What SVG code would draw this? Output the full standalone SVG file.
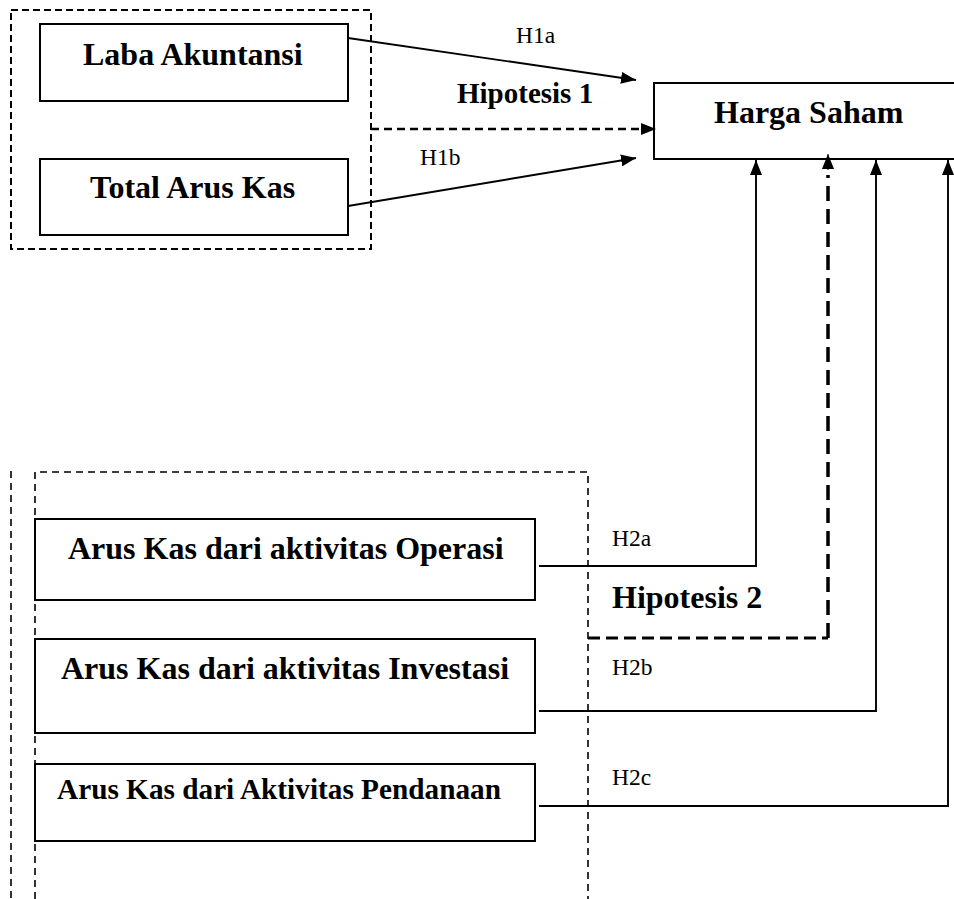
<svg xmlns="http://www.w3.org/2000/svg" width="954" height="899" viewBox="0 0 954 899">
<defs>
<style>
.box{fill:#fff;stroke:#000;stroke-width:2}
.lbl{font-family:"Liberation Serif","Times New Roman",serif;font-weight:bold;fill:#000}
.sm{font-family:"Liberation Serif","Times New Roman",serif;font-size:23.5px;fill:#000}
.ln{fill:none;stroke:#000;stroke-width:1.9}
.dash1{fill:none;stroke:#000;stroke-width:2;stroke-dasharray:7 4}
.dash2{fill:none;stroke:#000;stroke-width:1.6;stroke-dasharray:7 5}
</style>
<marker id="ah" viewBox="0 0 15 12" refX="15" refY="6" markerWidth="15" markerHeight="12" markerUnits="userSpaceOnUse" orient="auto">
<path d="M0,0 L15,6 L0,12 Z" fill="#000"/>
</marker>
</defs>
<rect width="954" height="899" fill="#fff"/>

<g id="group-hipotesis1">
<rect x="11" y="10" width="360" height="239" class="dash1"/>
</g>
<g id="group-hipotesis2">
<path d="M11,471 V899" class="dash2"/>
<path d="M35,899 V472 H588 V899" class="dash2"/>
</g>

<g id="node-laba">
<rect x="40" y="24" width="308" height="77" class="box"/>
<text x="83" y="65" class="lbl" font-size="32">Laba Akuntansi</text>
</g>
<g id="node-total">
<rect x="40" y="159" width="308" height="76" class="box"/>
<text x="90" y="198" class="lbl" font-size="32">Total Arus Kas</text>
</g>
<g id="node-harga">
<rect x="654" y="83" width="320" height="76" class="box"/>
<text x="714" y="123" class="lbl" font-size="32">Harga Saham</text>
</g>
<g id="node-operasi">
<rect x="35" y="519" width="500" height="81" class="box"/>
<text x="68" y="559" class="lbl" font-size="32">Arus Kas dari aktivitas Operasi</text>
</g>
<g id="node-investasi">
<rect x="35" y="639" width="500" height="94" class="box"/>
<text x="61" y="679" class="lbl" font-size="32">Arus Kas dari aktivitas Investasi</text>
</g>
<g id="node-pendanaan">
<rect x="35" y="764" width="500" height="77" class="box"/>
<text x="57" y="799" class="lbl" font-size="29" textLength="444" lengthAdjust="spacingAndGlyphs">Arus Kas dari Aktivitas Pendanaan</text>
</g>

<g id="connectors">
<line x1="348" y1="38" x2="636" y2="80" class="ln" marker-end="url(#ah)"/>
<line x1="348" y1="206" x2="636" y2="158" class="ln" marker-end="url(#ah)"/>
<line x1="371" y1="129" x2="656" y2="129" fill="none" stroke="#000" stroke-width="2.3" stroke-dasharray="8 5" marker-end="url(#ah)"/>
<path d="M539,566 H756 V160" class="ln" marker-end="url(#ah)"/>
<path d="M539,711 H876 V160" class="ln" marker-end="url(#ah)"/>
<path d="M539,806 H948 V160" class="ln" marker-end="url(#ah)"/>
<path d="M588,638 H828" fill="none" stroke="#000" stroke-width="3" stroke-dasharray="12 6"/>
<path d="M828,638 V175" fill="none" stroke="#000" stroke-width="3.5" stroke-dasharray="15 8"/>
<line x1="828" y1="170" x2="828" y2="154" stroke="#000" stroke-width="1" marker-end="url(#ah)"/>
</g>

<g id="labels">
<text x="457" y="103" class="lbl" font-size="29">Hipotesis 1</text>
<text x="612" y="608" class="lbl" font-size="32">Hipotesis 2</text>
<text x="516" y="43" class="sm">H1a</text>
<text x="420" y="165" class="sm">H1b</text>
<text x="612" y="546" class="sm">H2a</text>
<text x="612" y="675" class="sm">H2b</text>
<text x="612" y="785" class="sm">H2c</text>
</g>
</svg>
